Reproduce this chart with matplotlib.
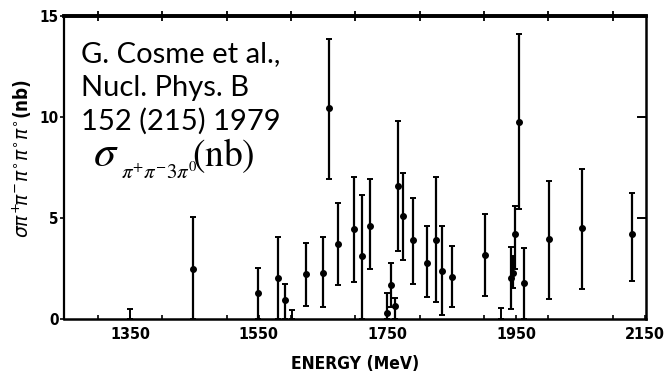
import matplotlib
matplotlib.use("Agg")
import matplotlib.pyplot as plt
from matplotlib.ticker import MultipleLocator, FixedLocator

# cross section points: energy (MeV), sigma (nb), lower / upper errors
energy = [1447, 1548, 1579, 1590, 1623, 1649, 1659.5, 1673.5, 1698, 1710,
          1723, 1749, 1755, 1762, 1766, 1774, 1790, 1812, 1825, 1835,
          1851, 1902, 1942, 1945, 1949, 1954, 1962, 2001, 2052, 2130]
sigma = [2.5, 1.3, 2.05, 0.95, 2.25, 2.3, 10.45, 3.7, 4.45, 3.1,
         4.6, 0.3, 1.7, 0.65, 6.6, 5.1, 3.9, 2.8, 3.9, 2.4,
         2.1, 3.15, 2.05, 2.3, 4.2, 9.75, 1.8, 3.95, 4.5, 4.2]
err_lo = [2.5, 1.3, 2.05, 0.95, 1.6, 1.7, 3.5, 2.0, 2.6, 3.1,
          2.1, 0.3, 1.1, 0.65, 3.25, 2.2, 2.15, 1.7, 3.05, 2.2,
          1.5, 2.0, 1.55, 0.75, 1.7, 4.3, 1.8, 2.95, 3.0, 2.3]
err_hi = [2.55, 1.25, 2.0, 0.8, 1.5, 1.75, 3.4, 2.05, 2.6, 3.05,
          2.35, 1.0, 1.1, 0.4, 3.2, 2.15, 2.1, 1.8, 3.15, 2.2,
          1.5, 2.05, 1.5, 0.8, 1.4, 4.35, 1.7, 2.9, 2.95, 2.05]

# bins with only an upper bar above zero
limit_energy = [1350, 1601, 1926]
limit_top = [0.5, 0.45, 0.55]

x_ticks = [1350, 1550, 1750, 1950, 2150]
y_ticks = [0, 5, 10, 15]
ref_lines = ['G. Cosme et al.,', 'Nucl. Phys. B', '152 (215) 1979']

W, H = 667, 379
fig = plt.figure(figsize=(W / 100, H / 100), dpi=100)
ax = fig.add_axes([0.096, 0.158, 0.8725, 0.8])


def px(x, y):
    # pixel position (from top-left) -> figure fraction
    return x / W, 1 - y / H


ax.errorbar(energy, sigma, yerr=[err_lo, err_hi], fmt='o', color='black',
            ms=4, elinewidth=1.6, capsize=2.5, capthick=1.4, clip_on=False)
ax.errorbar(limit_energy, [0] * len(limit_energy), yerr=[[0] * len(limit_energy), limit_top],
            fmt='none', ecolor='black', elinewidth=1.4, capsize=2.5, capthick=1.4)

ax.set_xlim(1247, 2152)
ax.set_ylim(0, 15.0)

bold_narrow = {'family': 'DejaVu Sans', 'stretch': 'condensed', 'weight': 'bold'}
ax.xaxis.set_major_locator(FixedLocator(x_ticks))
ax.xaxis.set_minor_locator(MultipleLocator(100))
ax.yaxis.set_major_locator(FixedLocator(y_ticks))
ax.set_xticklabels([str(v) for v in x_ticks], fontdict={**bold_narrow, 'size': 11.5})
ax.set_yticklabels([str(v) for v in y_ticks], fontdict={**bold_narrow, 'size': 11})
ax.tick_params(axis='x', which='both', direction='in', length=3, width=1.2, pad=6)
ax.tick_params(axis='y', direction='out', length=3, width=1.2, pad=1)

# crossing ticks along the top frame
top = ax.secondary_xaxis('top')
top.xaxis.set_major_locator(MultipleLocator(100))
top.tick_params(direction='inout', length=7, width=1.3, labeltop=False)
top.spines['top'].set_linewidth(2.6)

for side, lw in [('left', 1.6), ('bottom', 1.8), ('top', 2.6), ('right', 1.8)]:
    ax.spines[side].set_linewidth(lw)

# inward marks on the right frame
for yv in [5, 10]:
    ax.plot([2140, 2152], [yv, yv], color='black', lw=1.4, clip_on=False)

ax.set_xlabel('ENERGY (MeV)', fontdict={**bold_narrow, 'size': 12.5}, labelpad=9)
ax.set_ylabel(r'$\sigma\pi^{+}\!\pi^{-}\pi^{\circ}\pi^{\circ}\pi^{\circ}$(nb)',
              fontdict={**bold_narrow, 'size': 13.5})
ax.yaxis.set_label_coords(-0.052, 0.53)

# citation block
for i, line in enumerate(ref_lines):
    fig.text(*px(81, 62 + 34 * i), line, ha='left', va='baseline',
             family=['Lato', 'DejaVu Sans'], fontsize=21)

# sigma symbol with small subscript, then unit
fig.text(*px(93, 166), r'$\sigma$', ha='left', va='baseline', fontsize=32,
         math_fontfamily='stix')
fig.text(*px(121, 179), r'$\pi^{+}\pi^{-}3\pi^{0}$', ha='left', va='baseline',
         fontsize=15, math_fontfamily='stix')
fig.text(*px(192, 166), r'$\mathrm{(nb)}$', ha='left', va='baseline', fontsize=27,
         math_fontfamily='stix')

fig.savefig('out.png', dpi=100)
